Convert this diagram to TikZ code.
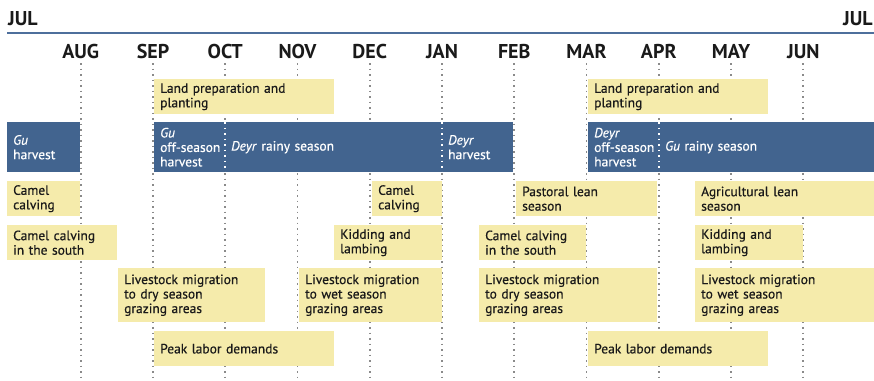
\documentclass[tikz,border=0pt]{standalone}
\usepackage{fontspec}
\setmainfont{PT Sans}
\newfontfamily\boxfont{PT Sans}[FakeBold=0.5]
\definecolor{bandblue}{HTML}{42648F}
\definecolor{ruleblue}{HTML}{4E6F9C}
\definecolor{cream}{HTML}{F5EBAB}
\definecolor{gridgray}{HTML}{8A8A8A}
\definecolor{ink}{HTML}{1A1A1A}
\tikzset{
  boxbase/.style={anchor=north west, inner xsep=6pt, inner ysep=0pt, align=left,
    font=\boxfont\fontsize{13.5}{14.5}\selectfont},
  ybox/.style={boxbase, fill=cream, text=ink},
  bbox/.style={boxbase, fill=bandblue, text=white},
  monthlabel/.style={font=\bfseries\fontsize{20}{20}\selectfont, text=ink, anchor=base, inner sep=0pt},
  gridline/.style={gridgray, line width=1.7pt, dash pattern=on 1.7pt off 3.8pt},
  sepline/.style={white, line width=1.7pt, dash pattern=on 1.7pt off 3.8pt},
}
% box helpers: name, left x, top y, width, height, text
\newcommand\ybx[6]{%
  \pgfmathsetmacro\tw{#4-12}%
  \node[ybox, minimum width=#4pt, minimum height=#5pt, text width=\tw pt] (#1) at (#2,#3) {#6};}
\newcommand\bbx[6]{%
  \pgfmathsetmacro\tw{#4-12}%
  \node[bbox, minimum width=#4pt, minimum height=#5pt, text width=\tw pt] (#1) at (#2,#3) {#6};}
\begin{document}
\begin{tikzpicture}[x=1pt, y=-1pt]
\useasboundingbox (0,0) rectangle (874,380);

% year labels and top rule
\node[monthlabel, anchor=base west] (julA) at (8,25) {JUL};
\node[monthlabel, anchor=base west] (julB) at (843,25) {JUL};
\draw[ruleblue, line width=2.5pt] (7,33) -- (880,33);

% month labels and dotted month boundaries
\foreach \m [count=\i] in {AUG,SEP,OCT,NOV,DEC,JAN,FEB,MAR,APR,MAY,JUN} {
  \pgfmathsetmacro\mx{8.5+72.25*\i}
  \node[monthlabel] (m\i) at (\mx,58) {\m};
  \draw[gridline] (\mx,63) -- (\mx,381);
}

% planting
\ybx{landA}{154}{79}{180}{35}{Land preparation and\\planting}
\ybx{landB}{588}{79}{180}{35}{Land preparation and\\planting}

% seasons band
\bbx{guh}{7}{122}{73}{50}{\textit{Gu}\\harvest}
\bbx{guoff}{154}{122}{71}{50}{\textit{Gu}\\\mbox{off-season}\\harvest}
\bbx{deyrr}{225}{122}{217}{50}{\textit{Deyr} rainy season}
\bbx{deyrh}{442}{122}{71}{50}{\textit{Deyr}\\harvest}
\bbx{deyroff}{588}{122}{71}{50}{\textit{Deyr}\\\mbox{off-season}\\harvest}
\bbx{gur}{659}{122}{220}{50}{\textit{Gu} rainy season}
\foreach \sx in {225,442,659} \draw[sepline] (\sx,122) -- (\sx,172);

% livestock and lean seasons
\ybx{camelA}{7}{181}{73}{35}{Camel\\calving}
\ybx{camelB}{372}{181}{70}{35}{Camel\\calving}
\ybx{pastoral}{516}{181}{141}{35}{Pastoral lean\\season}
\ybx{agri}{695}{181}{184}{35}{Agricultural lean\\season}

\ybx{southA}{7}{225}{110}{35}{Camel calving\\in the south}
\ybx{kidA}{334}{225}{108}{35}{Kidding and\\lambing}
\ybx{southB}{479}{225}{107}{35}{Camel calving\\in the south}
\ybx{kidB}{695}{225}{108}{35}{Kidding and\\lambing}

\ybx{dryA}{118}{268}{147}{54}{Livestock migration\\to dry season\\grazing areas}
\ybx{wetA}{299}{268}{143}{54}{Livestock migration\\to wet season\\grazing areas}
\ybx{dryB}{479}{268}{178}{54}{Livestock migration\\to dry season\\grazing areas}
\ybx{wetB}{695}{268}{184}{54}{Livestock migration\\to wet season\\grazing areas}

\ybx{peakA}{154}{331}{180}{35}{Peak labor demands}
\ybx{peakB}{588}{331}{180}{35}{Peak labor demands}
\end{tikzpicture}
\end{document}
